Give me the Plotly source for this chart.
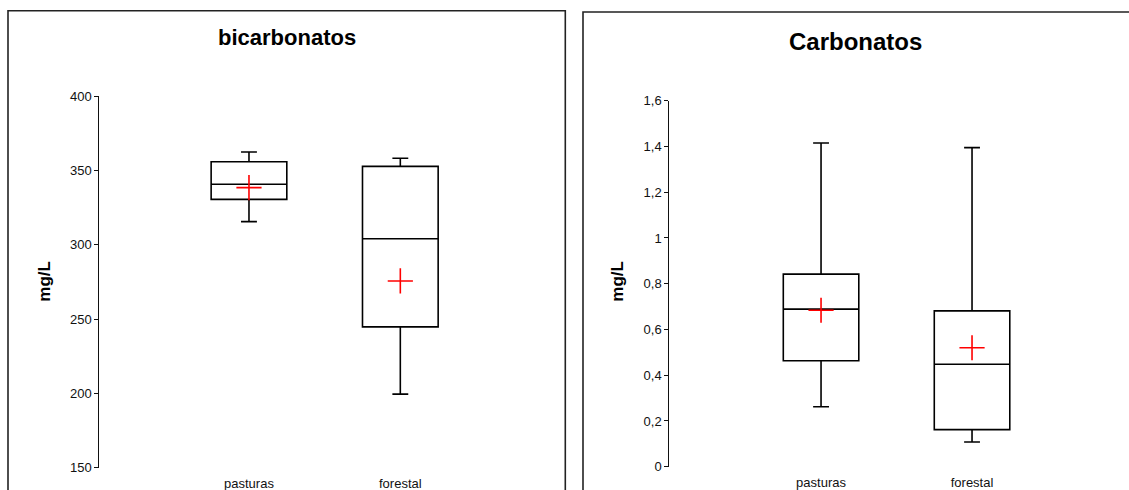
import plotly.graph_objects as go

W, H = 1129, 490

# --- data -------------------------------------------------------------
categories = ["pasturas", "forestal"]

# bicarbonatos (mg/L)
bic_lower = [315.5, 199.5]
bic_q1 = [330.5, 244.7]
bic_median = [340.6, 304.0]
bic_q3 = [355.8, 352.7]
bic_upper = [362.3, 358.1]
bic_mean = [338.4, 275.6]

# carbonatos (mg/L)
car_lower = [0.262, 0.108]
car_q1 = [0.463, 0.162]
car_median = [0.689, 0.448]
car_q3 = [0.842, 0.681]
car_upper = [1.415, 1.395]
car_mean = [0.684, 0.520]

bic_ticks = [150, 200, 250, 300, 350, 400]
bic_ticktext = ["150", "200", "250", "300", "350", "400"]
car_ticks = [0, 0.2, 0.4, 0.6, 0.8, 1.0, 1.2, 1.4, 1.6]
car_ticktext = ["0", "0,2", "0,4", "0,6", "0,8", "1", "1,2", "1,4", "1,6"]

FONT = "Liberation Sans, Arial, sans-serif"


def px_x(p):
    return p / W


def px_y(p):
    return 1 - p / H


fig = go.Figure()


def add_panel(xa, ya, lower, q1, med, q3, upper, mean):
    fig.add_trace(go.Box(
        x=categories, q1=q1, median=med, q3=q3,
        lowerfence=lower, upperfence=upper,
        xaxis=xa, yaxis=ya, width=0.5, whiskerwidth=0.21,
        fillcolor="white", line=dict(color="black", width=1.6),
        boxpoints=False, showlegend=False, hoverinfo="skip",
    ))
    fig.add_trace(go.Scatter(
        x=categories, y=mean, xaxis=xa, yaxis=ya, mode="markers",
        marker=dict(symbol="cross-thin", size=18,
                    line=dict(color="#ff0000", width=1.6)),
        showlegend=False, hoverinfo="skip",
    ))


add_panel("x", "y", bic_lower, bic_q1, bic_median, bic_q3, bic_upper, bic_mean)
add_panel("x2", "y2", car_lower, car_q1, car_median, car_q3, car_upper, car_mean)

xaxis_common = dict(
    type="category", showline=False, showgrid=False, zeroline=False,
    ticks="outside", ticklen=4, tickcolor="rgba(0,0,0,0)",
    tickfont=dict(family=FONT, size=13, color="#111"), fixedrange=True,
    automargin=False,
)
yaxis_common = dict(
    showline=True, linecolor="#111", linewidth=1, showgrid=False,
    zeroline=False, ticks="outside", ticklen=4, tickcolor="#111",
    tickwidth=1, tickfont=dict(family=FONT, size=13, color="#111"),
    fixedrange=True, automargin=False,
)

fig.update_layout(
    width=W, height=H, margin=dict(l=0, r=0, t=0, b=0, autoexpand=False),
    paper_bgcolor="white", plot_bgcolor="white",
    xaxis=dict(xaxis_common, domain=[px_x(99.3), px_x(550)],
               range=[-0.989, 1.989], anchor="y"),
    yaxis=dict(yaxis_common, domain=[px_y(467.7), px_y(96)],
               range=[150, 400], tickvals=bic_ticks, ticktext=bic_ticktext,
               anchor="x"),
    xaxis2=dict(xaxis_common, domain=[px_x(669.3), px_x(1120)],
                range=[-1.005, 1.98], anchor="y2"),
    yaxis2=dict(yaxis_common, domain=[px_y(466.7), px_y(100.7)],
                range=[0, 1.6], tickvals=car_ticks, ticktext=car_ticktext,
                anchor="x2"),
)

# panel frames
for x0, x1, y0 in [(8, 565.3, 10.7), (583, 1140, 12)]:
    fig.add_shape(type="rect", xref="paper", yref="paper",
                  x0=px_x(x0), x1=px_x(x1), y0=px_y(y0), y1=px_y(520),
                  line=dict(color="#222", width=1.6), fillcolor="rgba(0,0,0,0)")

# titles and axis labels
fig.add_annotation(text="<b>bicarbonatos</b>", x=px_x(287), y=px_y(37.7),
                   xref="paper", yref="paper", showarrow=False,
                   xanchor="center", yanchor="middle",
                   font=dict(family=FONT, size=22, color="black"))
fig.add_annotation(text="<b>Carbonatos</b>", x=px_x(855), y=px_y(41.7),
                   xref="paper", yref="paper", showarrow=False,
                   xanchor="center", yanchor="middle",
                   font=dict(family=FONT, size=24, color="black"))
for xc in (45, 618):
    fig.add_annotation(text="<b>mg/L</b>", x=px_x(xc), y=px_y(281.7),
                       xref="paper", yref="paper", showarrow=False,
                       xanchor="center", yanchor="middle", textangle=-90,
                       font=dict(family=FONT, size=17, color="black"))

fig.write_html("out.html")
